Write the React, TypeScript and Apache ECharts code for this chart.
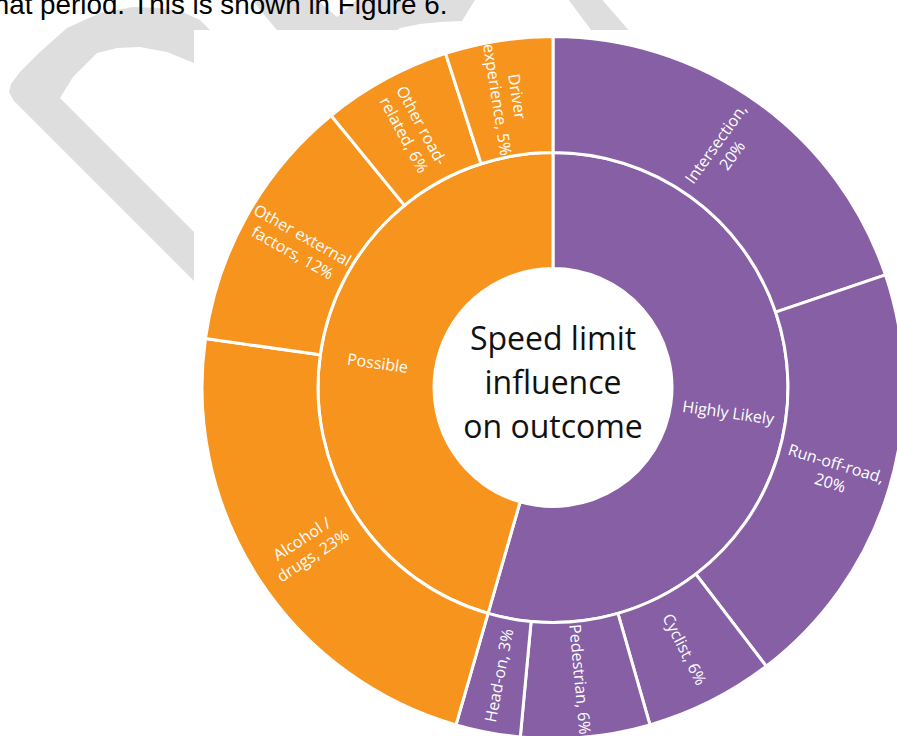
import { useEffect, useRef } from 'react';
import * as echarts from 'echarts';

// Inner ring: influence groups
const groupNames = ['Highly Likely', 'Possible'];
const groupColors = ['#865FA5', '#F7941E'];

// Outer ring: crash types within each group (percent of fatalities)
const highlyLikelyNames = ['Intersection', 'Run-off-road', 'Cyclist', 'Pedestrian', 'Head-on'];
const highlyLikelyValues = [20, 20, 6, 6, 3];

const possibleNames = ['Alcohol / drugs', 'Other external factors', 'Other road-related', 'Driver experience'];
const possibleValues = [23, 12, 6, 5];

// Text of the first line of each two-line label
const labelBreaks: Record<string, string> = {
  'Intersection': 'Intersection,',
  'Run-off-road': 'Run-off-road,',
  'Alcohol / drugs': 'Alcohol /',
  'Other external factors': 'Other external',
  'Other road-related': 'Other road-',
  'Driver experience': 'Driver',
};

const centreTitle = ['Speed limit', 'influence', 'on outcome'];
const pageText = 'that period. This is shown in Figure 6.';

const FONT = '"Open Sans", "Noto Sans", sans-serif';

function leafLabel(name: string, value: number): string {
  const full = `${name}, ${value}%`;
  const head = labelBreaks[name];
  if (!head) return full;
  return head + '\n' + full.slice(head.length).trim();
}

// Faint "DRAFT" watermark strokes showing around the chart
const watermarkD: number[][] = [
  [270, 357], [14, 101], [9, 92], [11, 84], [20, 72], [40, 52], [67, 28], [100, 13],
  [133, 7], [160, 8], [185, 13], [200, 20], [210, 30], [230, 50], [230, 80],
  [200, 68], [194, 63], [167, 52], [140, 47], [117, 48], [97, 53], [73, 77], [60, 98],
  [270, 308],
];
const watermarkR: number[][] = [
  [248, -5], [311, -5], [337, 17], [363, -5], [478, -5], [462, 21], [440, 22],
  [420, 24], [400, 28], [392, 34], [280, 34],
];
const watermarkA: number[][] = [[565, -5], [598, -5], [632, 34], [594, 34]];

export default function App() {
  const ref = useRef<HTMLDivElement>(null);

  useEffect(() => {
    if (!ref.current) return;
    const chart = echarts.init(ref.current, undefined, { renderer: 'svg' });

    const makeGroup = (gi: number, names: string[], values: number[]) => ({
      name: groupNames[gi],
      itemStyle: { color: groupColors[gi] },
      children: names.map((n, i) => ({
        name: n,
        value: values[i],
        itemStyle: { color: groupColors[gi] },
      })),
    });

    const data = [
      makeGroup(0, highlyLikelyNames, highlyLikelyValues),
      makeGroup(1, possibleNames, possibleValues),
    ];

    const labelBase = {
      show: true,
      rotate: 'radial',
      color: '#ffffff',
      fontFamily: FONT,
      fontSize: 16,
      lineHeight: 20,
      align: 'center',
    };

    chart.setOption({
      animation: false,
      backgroundColor: '#ffffff',
      graphic: [
        { type: 'polygon', z: 0, shape: { points: watermarkD }, style: { fill: '#DEDEDE' } },
        { type: 'polygon', z: 0, shape: { points: watermarkR }, style: { fill: '#DEDEDE' } },
        { type: 'polygon', z: 0, shape: { points: watermarkA }, style: { fill: '#DEDEDE' } },
        { type: 'rect', z: 1, shape: { x: 194, y: 30, width: 720, height: 720 }, style: { fill: '#ffffff' } },
        {
          type: 'text',
          z: 1,
          x: -14,
          y: 4,
          style: {
            text: pageText,
            font: '27.8px "Liberation Sans", Arial, sans-serif',
            fill: '#000000',
            verticalAlign: 'middle',
            align: 'left',
          },
        },
        {
          type: 'text',
          z: 5,
          x: 553,
          y: 381,
          style: {
            text: centreTitle.join('\n'),
            font: `32px ${FONT}`,
            lineHeight: 44,
            fill: '#111111',
            align: 'center',
            verticalAlign: 'middle',
          },
        },
      ],
      series: [
        {
          type: 'sunburst',
          center: [553, 387.5],
          radius: [119, 351],
          startAngle: 90,
          clockwise: true,
          sort: null,
          nodeClick: false,
          data,
          itemStyle: { borderColor: '#ffffff', borderWidth: 3 },
          emphasis: { disabled: true },
          label: labelBase,
          levels: [
            {},
            {
              r0: 119,
              r: 235,
              label: { ...labelBase, formatter: '{b}' },
            },
            {
              r0: 235,
              r: 351,
              label: {
                ...labelBase,
                formatter: (p: any) => leafLabel(p.name, p.value),
              },
            },
          ],
        },
      ],
    });

    return () => chart.dispose();
  }, []);

  return (
    <div
      ref={ref}
      style={{ position: 'fixed', left: 0, top: 0, width: 897, height: 736, background: '#fff' }}
    />
  );
}
